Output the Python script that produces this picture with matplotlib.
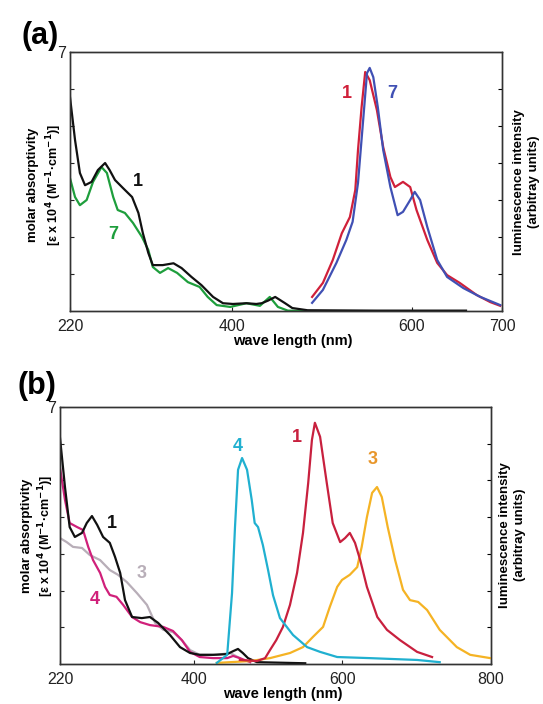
import numpy as np
import matplotlib
matplotlib.use("Agg")
import matplotlib.pyplot as plt

plt.rcParams["font.family"] = ["Liberation Sans", "DejaVu Sans"]

# ── panel (a) data ───────────────────────────────────────────────────────────
a_abs1_x = [220, 225.6, 231, 236.7, 244, 251, 259, 264, 270, 279, 289, 296, 301, 307,
            312, 323, 335, 344, 355, 366, 379, 390, 401, 416, 427, 433, 440, 448, 459,
            467, 484, 560, 660]
a_abs1_y = [5.78, 4.62, 3.73, 3.40, 3.49, 3.81, 4.0, 3.81, 3.54, 3.32, 3.08, 2.65, 2.1, 1.57,
            1.24, 1.24, 1.29, 1.16, 0.92, 0.70, 0.38, 0.21, 0.19, 0.21, 0.19, 0.21, 0.28, 0.38, 0.21,
            0.08, 0.02, 0.01, 0.01]
a_abs7_x = [220, 225.6, 231, 238.5, 245.6, 255, 261, 268, 273, 281, 290, 300, 307, 312,
            320, 329, 339, 351, 364, 373, 383, 398, 416, 431, 442, 451, 462, 480]
a_abs7_y = [3.59, 3.08, 2.86, 3.0, 3.49, 3.89, 3.73, 3.08, 2.73, 2.65, 2.38, 2.0, 1.65, 1.19,
            1.03, 1.16, 1.03, 0.78, 0.65, 0.38, 0.16, 0.11, 0.21, 0.14, 0.38, 0.11, 0.01, 0.0]
a_em1_x = [489, 501, 512, 522, 531, 537, 540, 544, 548, 553, 561, 568, 576, 581, 590, 598,
           605, 617, 628, 639, 653, 672, 687, 698]
a_em1_y = [0.38, 0.76, 1.38, 2.1, 2.54, 3.27, 4.35, 5.51, 6.46, 6.24, 5.43, 4.43, 3.62, 3.35,
           3.49, 3.35, 2.73, 1.92, 1.30, 0.97, 0.76, 0.43, 0.24, 0.14]
a_em7_x = [489, 501, 516, 527, 534, 540, 546, 550, 553, 557, 562, 568, 576, 584, 590, 598,
           603, 609, 617, 628, 639, 657, 676, 698]
a_em7_y = [0.22, 0.57, 1.30, 1.92, 2.41, 3.46, 5.24, 6.43, 6.57, 6.32, 5.51, 4.35, 3.35, 2.59,
           2.68, 3.0, 3.22, 3.0, 2.27, 1.38, 0.92, 0.62, 0.38, 0.16]

# ── panel (b) data ───────────────────────────────────────────────────────────
b_abs1_x = [220, 226.7, 233, 240, 249.6, 256, 263, 270, 278, 287, 294, 301, 307.5, 317, 330,
            341, 352, 368, 381.5, 395, 408, 426, 445, 453, 459.5, 466, 473, 485, 550]
b_abs1_y = [6.16, 4.82, 3.73, 3.46, 3.57, 3.84, 4.03, 3.79, 3.46, 3.30, 2.92, 2.48, 1.74, 1.28, 1.25,
            1.28, 1.12, 0.79, 0.46, 0.30, 0.25, 0.25, 0.27, 0.35, 0.41, 0.30, 0.16, 0.05, 0.02]
b_abs4_x = [220, 226.7, 233, 243, 251, 258, 264.5, 274, 280.6, 287, 296, 305, 317, 328, 341,
            359, 372, 384, 395, 408, 426, 445, 453, 462, 476]
b_abs4_y = [5.34, 4.47, 3.84, 3.73, 3.65, 3.19, 2.83, 2.48, 2.10, 1.88, 1.83, 1.61, 1.28, 1.14, 1.06,
            1.01, 0.90, 0.65, 0.33, 0.19, 0.16, 0.16, 0.22, 0.16, 0.05]
b_abs3_x = [220, 229, 237.5, 249.6, 260, 274, 287, 298, 310, 323.6, 337, 348, 359, 372, 384,
            395, 408, 431, 449, 462]
b_abs3_y = [3.43, 3.32, 3.19, 3.16, 2.97, 2.83, 2.56, 2.43, 2.23, 1.93, 1.61, 1.12, 0.93, 0.87, 0.65,
            0.38, 0.25, 0.25, 0.30, 0.16]
b_em4_x = [431, 445, 451.5, 455.5, 459.6, 465, 471.7, 478, 482, 486.5, 493, 500, 506.7, 516,
           533.6, 552.5, 570, 593, 637, 700.5, 731]
b_em4_y = [0.03, 0.25, 1.93, 3.73, 5.29, 5.61, 5.29, 4.47, 3.84, 3.73, 3.24, 2.56, 1.87, 1.25,
           0.79, 0.46, 0.33, 0.19, 0.16, 0.11, 0.05]
b_em1_x = [462, 485, 496, 502.6, 511, 520, 529.5, 539, 547, 554, 559, 563, 570, 579, 587, 597,
           603.6, 610, 617, 624, 633, 647, 660, 677.6, 700.5, 720.7]
b_em1_y = [0.11, 0.08, 0.16, 0.38, 0.65, 1.01, 1.61, 2.48, 3.57, 4.93, 6.10, 6.57, 6.19, 4.93, 3.84,
           3.32, 3.43, 3.57, 3.30, 2.83, 2.10, 1.28, 0.93, 0.65, 0.33, 0.19]
b_em3_x = [431, 476, 502.6, 529.6, 547, 560.5, 574, 583, 593, 599.5, 610, 620, 626, 633, 640,
           646.6, 653, 661, 671, 681.6, 691, 702, 714, 731, 754, 772, 799]
b_em3_y = [0.03, 0.08, 0.16, 0.30, 0.46, 0.74, 1.01, 1.55, 2.10, 2.29, 2.43, 2.64, 3.19, 4.0, 4.66,
           4.82, 4.55, 3.73, 2.83, 2.02, 1.74, 1.69, 1.47, 0.93, 0.46, 0.25, 0.16]

W, H = 543, 704
fig = plt.figure(figsize=(W / 100, H / 100), dpi=100)


def box(l, t, r, b):
    return [l / W, 1 - b / H, (r - l) / W, (b - t) / H]


def px(x, y):
    return x / W, 1 - y / H


def style(ax, tw, xlim, xticks):
    ax.set_xlim(*xlim)
    ax.set_ylim(0, 7)
    ax.set_xticks(xticks)
    ax.set_xticklabels([str(t) for t in xticks], fontsize=11.5)
    ax.set_yticks(range(1, 8))
    ax.set_yticklabels([""] * 6 + ["7"], fontsize=11.5)
    ax.tick_params(direction="in", length=3, width=0.8, colors="#222222")
    ax.tick_params(axis="x", pad=6)
    ax.tick_params(axis="y", pad=3)
    tw.set_ylim(0, 7)
    tw.set_yticks(range(1, 7))
    tw.set_yticklabels([])
    tw.tick_params(direction="in", length=3, width=0.8)
    for a in (ax, tw):
        for sp in a.spines.values():
            sp.set_linewidth(1.0)
            sp.set_edgecolor("#333333")


lw = 1.6
lab = dict(fontsize=13, fontweight="bold", ha="center", va="center")
ylab = dict(fontsize=9.5, fontweight="bold", rotation=90, ha="center", va="center")
ylab2 = dict(ylab, fontsize=9)
bracket = r"[ε x 10$^{\mathbf{4}}$ (M$^{\mathbf{-1}}$·cm$^{\mathbf{-1}}$)]"

# ── (a) ──────────────────────────────────────────────────────────────────────
ax = fig.add_axes(box(70, 52, 502, 311))
tw = ax.twinx()
style(ax, tw, (220, 700), [220, 400, 600, 700])
ax.plot(a_abs7_x, a_abs7_y, color="#1e9e3c", lw=lw, solid_joinstyle="round")
ax.plot(a_abs1_x, a_abs1_y, color="#111111", lw=lw, solid_joinstyle="round")
tw.plot(a_em1_x, a_em1_y, color="#d0203a", lw=lw, solid_joinstyle="round")
tw.plot(a_em7_x, a_em7_y, color="#4050b4", lw=lw, solid_joinstyle="round")
fig.text(*px(40, 36), "(a)", fontsize=22, fontweight="bold", ha="center", va="center")
fig.text(*px(138, 182), "1", color="#111111", **lab)
fig.text(*px(113, 235), "7", color="#1e9e3c", **lab)
fig.text(*px(347, 93), "1", color="#d0203a", **lab)
fig.text(*px(392, 93), "7", color="#4050b4", **lab)
fig.text(*px(33, 185), "molar absorptivity", **ylab)
fig.text(*px(54, 185), bracket, **ylab2)
fig.text(*px(519, 182), "luminescence intensity", **ylab)
fig.text(*px(534, 182), "(arbitray units)", **ylab)
fig.text(*px(293, 341), "wave length (nm)", fontsize=10.5, fontweight="bold", ha="center", va="center")

# ── (b) ──────────────────────────────────────────────────────────────────────
ax = fig.add_axes(box(60, 407, 491, 664))
tw = ax.twinx()
style(ax, tw, (220, 800), [220, 400, 600, 800])
ax.plot(b_abs3_x, b_abs3_y, color="#b8aeb8", lw=lw, solid_joinstyle="round")
ax.plot(b_abs4_x, b_abs4_y, color="#d0207a", lw=lw, solid_joinstyle="round")
ax.plot(b_abs1_x, b_abs1_y, color="#111111", lw=lw, solid_joinstyle="round")
tw.plot(b_em3_x, b_em3_y, color="#f5b324", lw=lw, solid_joinstyle="round")
tw.plot(b_em1_x, b_em1_y, color="#c8203e", lw=lw, solid_joinstyle="round")
tw.plot(b_em4_x, b_em4_y, color="#20b0d0", lw=lw, solid_joinstyle="round")
fig.text(*px(37, 386), "(b)", fontsize=22, fontweight="bold", ha="center", va="center")
fig.text(*px(112, 523), "1", color="#111111", **lab)
fig.text(*px(142, 573), "3", color="#b8aeb8", **lab)
fig.text(*px(95, 600), "4", color="#d0207a", **lab)
fig.text(*px(238, 447), "4", color="#20b0d0", **lab)
fig.text(*px(297, 437), "1", color="#c8203e", **lab)
fig.text(*px(373, 460), "3", color="#e8962a", **lab)
fig.text(*px(27, 536), "molar absorptivity", **ylab)
fig.text(*px(46, 536), bracket, **ylab2)
fig.text(*px(505, 535), "luminescence intensity", **ylab)
fig.text(*px(520, 535), "(arbitray units)", **ylab)
fig.text(*px(283, 694), "wave length (nm)", fontsize=10.5, fontweight="bold", ha="center", va="center")

plt.savefig("out.png", dpi=100)
plt.close()
